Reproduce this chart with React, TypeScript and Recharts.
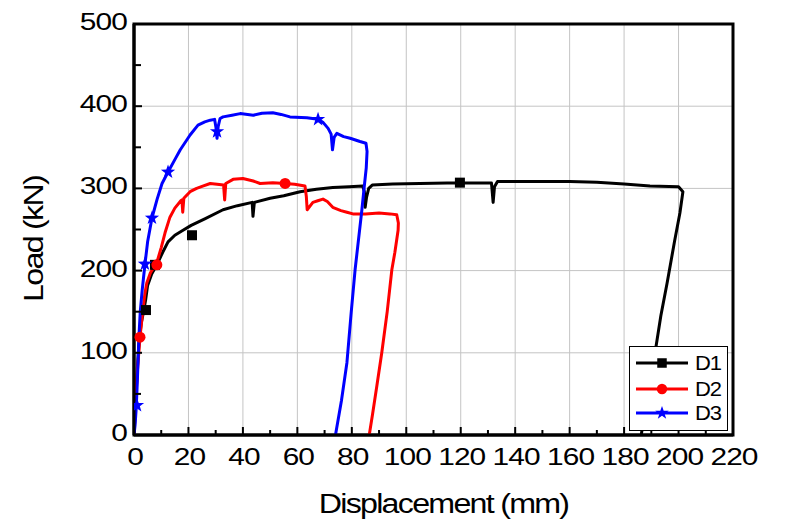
import React from 'react';
import { ComposedChart, Line, Scatter, XAxis, YAxis, CartesianGrid, ReferenceArea, Legend } from 'recharts';

// ---------- tick values ----------
const xMajorTicks = [0, 20, 40, 60, 80, 100, 120, 140, 160, 180, 200, 220];
const xAllTicks = [0, 10, 20, 30, 40, 50, 60, 70, 80, 90, 100, 110, 120, 130, 140, 150, 160, 170, 180, 190, 200, 210, 220];
const yMajorTicks = [0, 100, 200, 300, 400, 500];
const yAllTicks = [0, 50, 100, 150, 200, 250, 300, 350, 400, 450, 500];

// ---------- series: [displacement (mm), load (kN)] ----------
const d1Points: number[][] = [
  [0, 0], [0.6, 40], [1.2, 80], [1.8, 110], [2.6, 135], [3.5, 150], [4.3, 165], [5, 182], [6.5, 196], [8.4, 207],
  [10.5, 222], [12.5, 235], [15, 243], [18, 249], [21, 255], [26, 263], [32.7, 274], [38, 279], [43.4, 283],
  [43.7, 266], [44.2, 283], [50, 288], [55, 291], [61, 296], [67, 299], [73, 301], [79, 302], [84, 303],
  [84.6, 296], [84.9, 277], [85.4, 289], [86.2, 300], [87.5, 304], [95, 305.5], [105, 306], [115, 306.5],
  [120, 306.5], [125, 306.5], [131.3, 306.5], [131.9, 283], [132.4, 302], [133.5, 308.5], [140, 308.5],
  [150, 308.5], [160, 308.5], [170, 307.5], [180, 305.5], [189.5, 303], [200, 302], [201.6, 296],
  [200.5, 270], [198.5, 235], [195.8, 185], [193.5, 145], [191.7, 107], [189.5, 60], [187, 15], [186.3, 0],
];
const d1Markers: number[][] = [[4.4, 152], [7.7, 207], [21.3, 243], [119.7, 307]];

const d2Points: number[][] = [
  [0, 0], [0.6, 40], [1.3, 80], [2.2, 119], [3.2, 150], [4, 172], [4.7, 185], [6, 197], [8.4, 210], [10, 228],
  [11.4, 246], [13.2, 265], [15, 276], [17.2, 285], [17.6, 286], [17.9, 271], [18.3, 288], [20.6, 296],
  [23, 300], [25.5, 303], [28, 306], [30.5, 305], [32.9, 304], [33.3, 286], [33.7, 306], [36.4, 311],
  [40, 312], [43.8, 309], [46.3, 306], [51, 307], [55.5, 306], [59, 305], [62.8, 303], [63.3, 290],
  [63.6, 274], [65.7, 283], [67.5, 285], [69.4, 287], [71, 284], [73, 277], [76, 273], [78.2, 271],
  [80.4, 269], [85, 269], [90, 270], [94, 269], [96.5, 268], [97.1, 258], [97, 249], [95.8, 222],
  [94.7, 201], [93, 150], [91, 100], [89.2, 60], [87.6, 25], [86.4, 0],
];
const d2Markers: number[][] = [[2.2, 119], [8.4, 207], [55.5, 306]];

const d3Points: number[][] = [
  [0, 0], [0.4, 12], [0.8, 32], [1.1, 55], [1.5, 90], [1.8, 119], [2.3, 150], [3, 176], [4, 207], [5, 235],
  [6.6, 264], [8.5, 287], [10.3, 306], [12.5, 320], [15, 335], [17, 347], [20.6, 365], [23.5, 377], [26, 381],
  [28, 383], [29.6, 384], [30.1, 374], [30.5, 361], [30.9, 375], [31.6, 385], [32.7, 387], [36, 389],
  [39, 391], [43.8, 389], [47, 391.5], [51, 392], [54, 390], [57.3, 387], [63.5, 386], [67.6, 384],
  [69.5, 380], [71.3, 373], [72.4, 366], [72.9, 347], [73.5, 362], [74.5, 367], [77, 363], [79.4, 361],
  [83, 357], [85.2, 355], [85.6, 345], [85.3, 325], [84.5, 300], [83.7, 274], [81.2, 201], [79.8, 150],
  [78.2, 88], [76.2, 42], [74, 0],
];
const d3Markers: number[][] = [[1.1, 36], [4, 208], [6.6, 264], [12.5, 320], [30.5, 369], [67.6, 384]];

const seriesNames = ['D1', 'D2', 'D3'];
const seriesColors = ['#000000', '#ff0000', '#0000ff'];
const seriesMarkers = ['square', 'circle', 'star'];

const toData = (pts: number[][]) => pts.map(([x, y]) => ({ x, y }));

const FONT = "'Liberation Sans', Arial, sans-serif";

function starPath(cx: number, cy: number, R: number, r: number) {
  let d = '';
  for (let i = 0; i < 10; i++) {
    const ang = -Math.PI / 2 + (i * Math.PI) / 5;
    const rad = i % 2 === 0 ? R : r;
    d += (i === 0 ? 'M' : 'L') + (cx + rad * Math.cos(ang)).toFixed(2) + ',' + (cy + rad * Math.sin(ang)).toFixed(2);
  }
  return d + 'Z';
}

function Marker({ kind, cx, cy, color, scale = 1 }: { kind: string; cx: number; cy: number; color: string; scale?: number }) {
  if (kind === 'square') {
    const s = 10 * scale;
    return <rect x={cx - s / 2} y={cy - s / 2} width={s} height={s} fill={color} />;
  }
  if (kind === 'circle') {
    return <circle cx={cx} cy={cy} r={5.5 * scale} fill={color} />;
  }
  return <path d={starPath(cx, cy, 7.5 * scale, 3 * scale)} fill={color} />;
}

const makeShape = (kind: string, color: string) => (props: any) => {
  const { cx, cy } = props;
  if (cx == null || cy == null) return <g />;
  return <Marker kind={kind} cx={cx} cy={cy} color={color} />;
};

function XTick(props: any) {
  const { x, y, payload } = props;
  const v = payload.value;
  const major = v % 20 === 0;
  return (
    <g>
      <line x1={x} x2={x} y1={y} y2={y - (major ? 8 : 5)} stroke="#000" strokeWidth={2} />
      {major && (
        <text
          transform={`translate(${x + 1},${y + 30}) scale(1.3,1)`}
          textAnchor="middle"
          fontSize={23}
          fontFamily={FONT}
          letterSpacing={-0.7}
          fill="#000"
        >
          {v}
        </text>
      )}
    </g>
  );
}

function YTick(props: any) {
  const { x, y, payload } = props;
  const v = payload.value;
  const major = v % 100 === 0;
  return (
    <g>
      <line x1={x} x2={x + (major ? 8 : 7)} y1={y} y2={y} stroke="#000" strokeWidth={2} />
      {major && (
        <text
          transform={`translate(${x - 7},${y + 6}) scale(1.3,1)`}
          textAnchor="end"
          fontSize={23}
          fontFamily={FONT}
          letterSpacing={-0.7}
          fill="#000"
        >
          {v}
        </text>
      )}
    </g>
  );
}

function XTitle(props: any) {
  const vb = props.viewBox || { x: 126, y: 427, width: 599, height: 89 };
  const cx = vb.x + vb.width / 2 + 10;
  const cy = vb.y + 78;
  return (
    <text
      transform={`translate(${cx},${cy}) scale(1.15,1)`}
      textAnchor="middle"
      fontSize={28}
      fontFamily={FONT}
      letterSpacing={-1.5}
      fill="#000"
    >
      Displacement (mm)
    </text>
  );
}

function YTitle(props: any) {
  const vb = props.viewBox || { x: 0, y: 16, width: 126, height: 411 };
  const cx = vb.x + 35;
  const cy = vb.y + vb.height / 2 + 9.5;
  return (
    <text
      transform={`translate(${cx},${cy}) rotate(-90) scale(1.15,1)`}
      textAnchor="middle"
      fontSize={28}
      fontFamily={FONT}
      letterSpacing={-1.5}
      fill="#000"
    >
      Load (kN)
    </text>
  );
}

function LegendBox() {
  const rows = [17, 43, 67];
  return (
    <svg width={99} height={85} style={{ display: 'block' }}>
      <rect x={0.5} y={0.5} width={98} height={84} fill="#fff" stroke="#000" strokeWidth={1} />
      {seriesNames.map((name, i) => (
        <g key={name}>
          <line x1={7} x2={59} y1={rows[i]} y2={rows[i]} stroke={seriesColors[i]} strokeWidth={3} />
          <Marker kind={seriesMarkers[i]} cx={33} cy={rows[i]} color={seriesColors[i]} scale={0.95} />
          <text
            transform={`translate(66,${rows[i] + 7.4}) scale(1.1,1)`}
            fontSize={20}
            fontFamily={FONT}
            letterSpacing={-1}
            fill="#000"
          >
            {name}
          </text>
        </g>
      ))}
    </svg>
  );
}

const allPoints = [d1Points, d2Points, d3Points];
const allMarkers = [d1Markers, d2Markers, d3Markers];

export default function App() {
  return (
    <div style={{ fontFamily: FONT, width: 785, height: 516 }}>
      <ComposedChart width={785} height={516} margin={{ top: 16, right: 60, bottom: 0, left: 0 }}>
        <CartesianGrid
          stroke="#c4c4c4"
          strokeWidth={1}
          verticalValues={xMajorTicks}
          horizontalValues={yMajorTicks}
        />
        <XAxis
          type="number"
          dataKey="x"
          domain={[0, 220]}
          ticks={xAllTicks}
          interval={0}
          tick={<XTick />}
          tickLine={false}
          tickSize={0}
          tickMargin={0}
          axisLine={{ stroke: '#000', strokeWidth: 3 }}
          height={89}
          allowDataOverflow
          label={<XTitle />}
        />
        <YAxis
          type="number"
          dataKey="y"
          domain={[0, 500]}
          ticks={yAllTicks}
          interval={0}
          tick={<YTick />}
          tickLine={false}
          tickSize={0}
          tickMargin={0}
          axisLine={{ stroke: '#000', strokeWidth: 3 }}
          width={126}
          allowDataOverflow
          label={<YTitle />}
        />
        <ReferenceArea x1={0} x2={220} y1={0} y2={500} fill="none" fillOpacity={0} stroke="#000" strokeWidth={3} />
        {allPoints.map((pts, i) => (
          <Line
            key={'l' + i}
            data={toData(pts)}
            dataKey="y"
            name={seriesNames[i]}
            stroke={seriesColors[i]}
            strokeWidth={3}
            strokeLinejoin="round"
            dot={false}
            activeDot={false}
            legendType="none"
            isAnimationActive={false}
          />
        ))}
        {allMarkers.map((pts, i) => (
          <Scatter
            key={'s' + i}
            data={toData(pts)}
            dataKey="y"
            name={seriesNames[i] + ' markers'}
            shape={makeShape(seriesMarkers[i], seriesColors[i])}
            legendType="none"
            isAnimationActive={false}
          />
        ))}
        <Legend
          layout="horizontal"
          verticalAlign="middle"
          align="center"
          content={<LegendBox />}
          wrapperStyle={{ position: 'absolute', left: 621, top: 338, width: 99, height: 85 }}
        />
      </ComposedChart>
    </div>
  );
}
